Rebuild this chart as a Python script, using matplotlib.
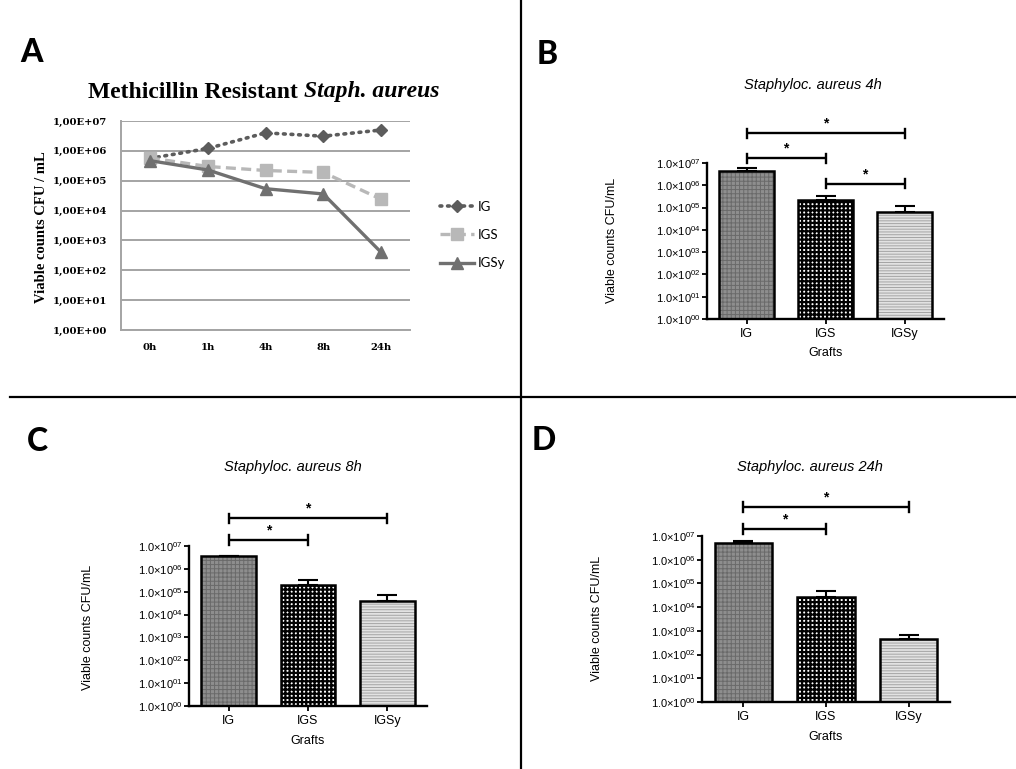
import matplotlib
matplotlib.use("Agg")
import matplotlib.pyplot as plt
import numpy as np
from matplotlib.lines import Line2D
from matplotlib.ticker import FixedLocator, FixedFormatter, NullLocator

# ---------------- data ----------------
times = ['0h', '1h', '4h', '8h', '24h']
ig_time = [5.6e5, 1.2e6, 4.0e6, 3.1e6, 5.0e6]
igs_time = [5.8e5, 3.0e5, 2.2e5, 1.9e5, 2.4e4]
igsy_time = [4.7e5, 2.3e5, 5.4e4, 3.6e4, 4.0e2]

grafts = ['IG', 'IGS', 'IGSy']
mean_4h = [4.4e6, 2.3e5, 6.6e4]
err_4h = [1.4e6, 1.1e5, 5.4e4]
mean_8h = [3.6e6, 2.0e5, 4.1e4]
err_8h = [2.0e5, 1.2e5, 2.9e4]
mean_24h = [5.2e6, 2.6e4, 4.5e2]
err_24h = [1.2e6, 2.1e4, 2.0e2]

decades = list(range(0, 8))
excel_labels = ['1,00E+%02d' % d for d in decades]
prism_labels = ['1.0×10$^{%02d}$' % d for d in decades]

# ---------------- layout helpers ----------------
W, H = 1016, 769
fig = plt.figure(figsize=(W / 100, H / 100), dpi=100)
fig.patch.set_facecolor('white')

def rect(x0, y0, x1, y1):
    return [x0 / W, 1 - y1 / H, (x1 - x0) / W, (y1 - y0) / H]

def fx(x):
    return x / W

def fy(y):
    return 1 - y / H

SANS = 'Liberation Sans'
SERIF = 'Liberation Serif'
WIDESERIF = 'DejaVu Serif'
LETTER = 'Lato'
plt.rcParams['mathtext.fontset'] = 'custom'
plt.rcParams['mathtext.rm'] = SANS
plt.rcParams['mathtext.it'] = SANS + ':italic'

# dividers
fig.add_artist(Line2D([fx(10), 1], [fy(397), fy(397)], color='black', lw=1.6))
fig.add_artist(Line2D([fx(521), fx(521)], [0, 1], color='black', lw=1.6))

# panel letters
for letter, x, y in [('A', 20, 38), ('B', 537, 40), ('C', 27, 427), ('D', 532, 426)]:
    fig.text(fx(x), fy(y), letter, ha='left', va='top', fontsize=23,
             fontweight='black', family=LETTER)

# ---------------- panel A ----------------
axA = fig.add_axes(rect(121, 121, 410, 330))
xA = np.arange(len(times))
grid_c = '#a4a4a4'
axA.plot(xA, ig_time, ls=(0, (0.5, 1.6)), lw=2.6, color='#5c5c5c', marker='D', ms=6.5,
         label='IG', dash_capstyle='round')
axA.plot(xA, igs_time, ls=(0, (3, 1.6)), lw=2.4, color='#b8b8b8', marker='s', ms=8.5,
         label='IGS')
axA.plot(xA, igsy_time, ls='-', lw=2.4, color='#707070', marker='^', ms=8,
         label='IGSy')
axA.set_yscale('log')
axA.set_ylim(1, 1e7)
axA.set_xlim(-0.5, len(times) - 0.5)
axA.yaxis.set_major_locator(FixedLocator([10.0 ** d for d in decades]))
axA.yaxis.set_major_formatter(FixedFormatter(excel_labels))
axA.yaxis.set_minor_locator(NullLocator())
axA.set_xticks(xA)
axA.set_xticklabels(times)
axA.tick_params(axis='both', length=0, labelsize=7.2)
axA.tick_params(axis='y', pad=10)
axA.tick_params(axis='x', pad=9)
for lab in axA.get_xticklabels() + axA.get_yticklabels():
    lab.set_family(WIDESERIF)
    lab.set_fontweight('bold')
axA.grid(axis='y', color=grid_c, lw=1.4)
axA.set_axisbelow(True)
for s in ['top', 'right']:
    axA.spines[s].set_visible(False)
for s in ['left', 'bottom']:
    axA.spines[s].set_color(grid_c)
    axA.spines[s].set_linewidth(1.4)
fig.text(fx(42), fy(227), 'Viable counts CFU / mL', rotation=90, ha='center',
         va='center', fontsize=10.5, fontweight='bold', family=SERIF)
leg = fig.legend(loc='center left', bbox_to_anchor=(fx(428), fy(235)), frameon=False,
                 handlelength=2.6, labelspacing=1.25, handletextpad=0.3,
                 prop={'family': LETTER, 'size': 9.5})

# title A with mixed styles
t1 = fig.text(0, fy(92), 'Methicillin Resistant ', ha='left', va='center',
              fontsize=17, fontweight='bold', family=SERIF)
t2 = fig.text(0, fy(92), 'Staph. aureus', ha='left', va='center',
              fontsize=17, fontweight='bold', style='italic', family=SERIF)
fig.canvas.draw()
r = fig.canvas.get_renderer()
w1 = t1.get_window_extent(r).width
w2 = t2.get_window_extent(r).width
start = 264 - (w1 + w2) / 2
t1.set_x(fx(start))
t2.set_x(fx(start + w1))

# ---------------- bar panels ----------------
styles = [
    dict(face='#8e8e8e', hatch='++++', hc='#6a6a6a', hlw=0.7),
    dict(face='white', hatch='++++', hc='black', hlw=1.6),
    dict(face='#e2e2e2', hatch='------', hc='#a4a4a4', hlw=0.7),
]

def bar_panel(box, means, errs, title, title_xy, ylabel_xy, xlabel_y, brackets):
    ax = fig.add_axes(rect(*box))
    x = np.arange(len(grafts))
    ax.set_yscale('log')
    ax.set_ylim(1, 1e7)
    ax.set_xlim(-0.5, 2.5)
    for i, (m, st) in enumerate(zip(means, styles)):
        b = ax.bar(x[i], m - 1, bottom=1, width=0.69, color=st['face'],
                   hatch=st['hatch'], edgecolor=st['hc'], linewidth=0, zorder=2)
        for p in b:
            try:
                p.set_hatch_linewidth(st['hlw'])
            except AttributeError:
                pass
        ax.bar(x[i], m - 1, bottom=1, width=0.69, fill=False, edgecolor='black',
               linewidth=1.8, zorder=3)
    ax.errorbar(x, means, yerr=[np.zeros(len(means)), errs], fmt='none',
                ecolor='black', elinewidth=1.5, capsize=7.5, capthick=1.5, zorder=1)
    ax.yaxis.set_major_locator(FixedLocator([10.0 ** d for d in decades]))
    ax.yaxis.set_major_formatter(FixedFormatter(prism_labels))
    ax.yaxis.set_minor_locator(NullLocator())
    ax.set_xticks(x)
    ax.set_xticklabels(grafts)
    ax.tick_params(axis='y', length=3.5, width=1.3, labelsize=8, pad=1)
    ax.tick_params(axis='x', length=3.5, width=1.3, labelsize=9, pad=3)
    for lab in ax.get_xticklabels() + ax.get_yticklabels():
        lab.set_family(SANS)
    for s in ['top', 'right']:
        ax.spines[s].set_visible(False)
    for s in ['left', 'bottom']:
        ax.spines[s].set_linewidth(1.7)
    x0, y0, x1, y1 = box
    fig.text(fx(ylabel_xy[0]), fy(ylabel_xy[1]), 'Viable counts CFU/mL', rotation=90,
             ha='center', va='center', fontsize=9, family=SANS)
    fig.text(fx(x0 + (x1 - x0) * 1.5 / 3.0), fy(xlabel_y), 'Grafts', ha='center',
             va='center', fontsize=9, family=SANS)
    fig.text(fx(title_xy[0]), fy(title_xy[1]), title, ha='center', va='center',
             fontsize=10.5, style='italic', family=SANS)
    for (i, j, lg) in brackets:
        yb = 10.0 ** lg
        lo, hi = 10.0 ** (lg - 0.2), 10.0 ** (lg + 0.2)
        ax.plot([x[i], x[j]], [yb, yb], color='black', lw=1.7, clip_on=False,
                solid_capstyle='butt')
        ax.plot([x[i], x[i]], [lo, hi], color='black', lw=1.7, clip_on=False)
        ax.plot([x[j], x[j]], [lo, hi], color='black', lw=1.7, clip_on=False)
        ax.annotate('*', xy=((x[i] + x[j]) / 2, yb), xytext=(0, 2),
                    textcoords='offset points', ha='center', va='bottom',
                    fontsize=10, fontweight='bold', family=SANS, annotation_clip=False)
    return ax

bar_panel((707, 163, 944, 319), mean_4h, err_4h, 'Staphyloc. aureus 4h', (813, 85),
          (612, 240), 353, [(0, 2, 8.34), (0, 1, 7.22), (1, 2, 6.06)])
bar_panel((189, 546, 427, 706), mean_8h, err_8h, 'Staphyloc. aureus 8h', (293, 467),
          (88, 627), 741, [(0, 2, 8.22), (0, 1, 7.26)])
bar_panel((702, 536, 950, 702), mean_24h, err_24h, 'Staphyloc. aureus 24h', (810, 467),
          (597, 618), 737, [(0, 2, 8.22), (0, 1, 7.3)])

fig.savefig('out.png', dpi=100, facecolor='white')
